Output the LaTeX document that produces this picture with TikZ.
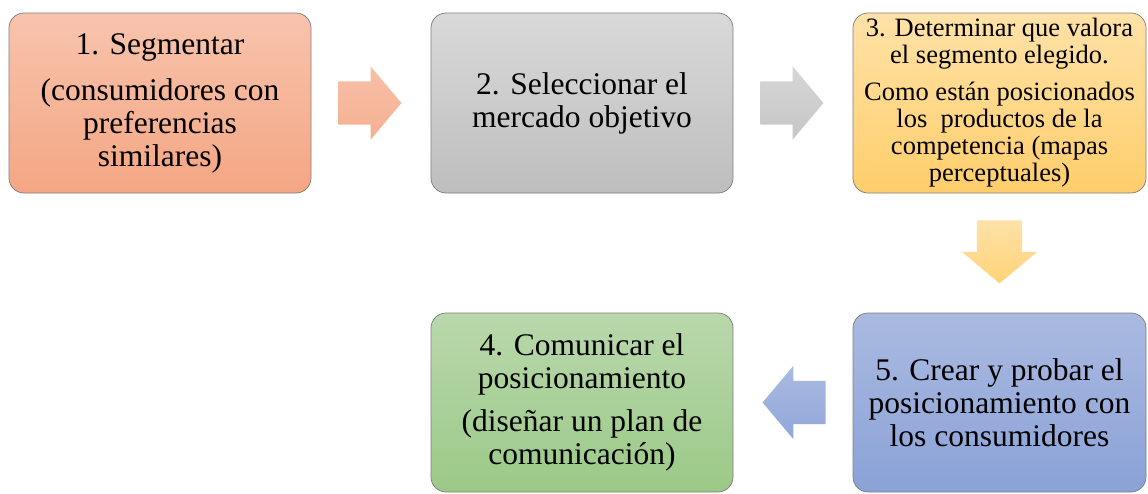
\documentclass[tikz,border=0pt]{standalone}
\usepackage{fontspec}
\setmainfont{Liberation Serif}
\usetikzlibrary{shapes.arrows,calc}

\definecolor{naranjaA}{HTML}{F8C4AD}
\definecolor{naranjaB}{HTML}{F4A683}
\definecolor{grisA}{HTML}{D9D9D9}
\definecolor{grisB}{HTML}{BEBEBE}
\definecolor{oroA}{HTML}{FFE2A8}
\definecolor{oroB}{HTML}{FFCE6B}
\definecolor{verdeA}{HTML}{B9D8AC}
\definecolor{verdeB}{HTML}{9BC987}
\definecolor{azulA}{HTML}{AABAE0}
\definecolor{azulB}{HTML}{8BA2D8}
\definecolor{borde}{HTML}{7F7F7F}

\tikzset{
  caja/.style={rounded corners=15pt, draw=borde, line width=0.75pt,
    minimum width=302pt, minimum height=180pt, inner sep=0pt, align=center},
  flecha/.style={single arrow, draw=none, anchor=tail, inner xsep=0pt, inner ysep=21.5pt,
    minimum height=63pt, single arrow head extend=15pt, single arrow tip angle=100},
  flechav/.style={flecha, inner xsep=22.5pt, inner ysep=0pt, shape border rotate=270},
  grande/.style={font=\fontsize{31.5}{33}\selectfont},
  chica/.style={font=\fontsize{26.5}{27}\selectfont},
}

\begin{document}
\begin{tikzpicture}[x=1pt, y=-1pt]
\useasboundingbox (0,0) rectangle (1148,493);
% cajas
\node[caja, grande, top color=naranjaA, bottom color=naranjaB] (seg) at (160,103)
  {1. Segmentar\\[13pt](consumidores con\\preferencias\\similares)};
\node[caja, grande, top color=grisA, bottom color=grisB] (sel) at (582,103)
  {2. Seleccionar el\\mercado objetivo};
\node[caja, chica, minimum width=293pt, top color=oroA, bottom color=oroB] (det) at (999.5,103)
  {3. Determinar que valora\\el segmento elegido.\\[10pt]Como están posicionados\\los~ productos de la\\competencia (mapas\\perceptuales)};
\node[caja, minimum width=293pt, minimum height=179pt, grande, top color=azulA, bottom color=azulB] (cre) at (999.5,402.5)
  {5. Crear y probar el\\posicionamiento con\\los consumidores};
\node[caja, minimum height=179pt, grande, top color=verdeA, bottom color=verdeB] (com) at (582,402.5)
  {4. Comunicar el\\posicionamiento\\[10pt](diseñar un plan de\\comunicación)};
% flechas
\node[flecha, top color=naranjaA!90!naranjaB, bottom color=naranjaB!70!naranjaA] (f1) at ($(seg.east)!0.225!(sel.west)$) {};
\node[flecha, top color=grisA!90!grisB, bottom color=grisB!70!grisA] (f2) at ($(sel.east)!0.225!(det.west)$) {};
\node[flechav, top color=oroA, bottom color=oroB!80!oroA] (f3) at ($(det.south)!0.225!(cre.north)$) {};
\node[flecha, shape border rotate=180, top color=azulA, bottom color=azulB!80!azulA] (f4) at ($(cre.west)!0.225!(com.east)$) {};
\end{tikzpicture}
\end{document}
